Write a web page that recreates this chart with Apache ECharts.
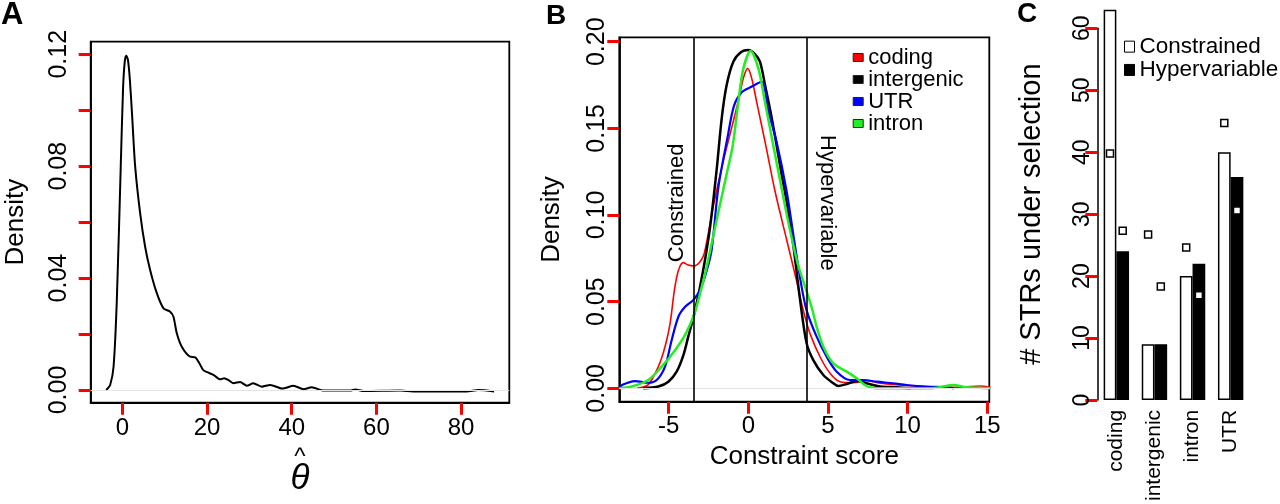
<!DOCTYPE html>
<html>
<head>
<meta charset="utf-8">
<script src="https://cdn.jsdelivr.net/npm/echarts@6/dist/echarts.min.js"></script>
<style>
html, body { margin: 0; padding: 0; background: #fff; }
#main { width: 1280px; height: 504px; }
</style>
</head>
<body>
<div id="main"></div>
<script>
// A: density of theta hat
let thetaX = [-3.85, -2.9, -2.1, -1.33, -0.4, 0.15, 0.55, 0.9, 1.3, 1.75, 2.25, 3.0, 4.18, 5.36, 6.54, 8.12, 9.69, 11.27, 12.05, 12.84, 14.02, 16.0, 17.2, 18.2, 19.1, 20.3, 21.5, 23.1, 24.0, 25.3, 26.2, 27.8, 29.4, 30.9, 32.9, 34.9, 37.8, 40.4, 42.8, 44.7, 47.5, 53.8, 55.0, 57.0, 65.6, 68.7, 81.3, 84.1, 87.8];
let thetaY = [0, 0.0018, 0.0083, 0.032, 0.08, 0.108, 0.1175, 0.1195, 0.118, 0.111, 0.099, 0.08, 0.0632, 0.0512, 0.0429, 0.0346, 0.0292, 0.028, 0.0262, 0.0203, 0.0155, 0.0119, 0.0117, 0.0095, 0.0071, 0.0062, 0.0054, 0.0038, 0.0042, 0.0033, 0.0024, 0.0029, 0.0015, 0.0024, 0.0012, 0.0018, 0.0005, 0.0015, 0.0003, 0.001, -0.0002, -0.0002, 0.0002, -0.0004, -0.0002, -0.0005, -0.0005, 0.0, -0.0005];
let thetaTicks = [0, 20, 40, 60, 80];
let densityTicksA = [0, 0.02, 0.04, 0.06, 0.08, 0.1, 0.12];
let densityLabelsA = [0, 0.04, 0.08, 0.12];
let faintLineA = 0.0024;

// B: constraint score densities
let codingX = [-7.0, -6.3, -5.65, -5.23, -4.91, -4.64, -4.39, -4.08, -3.77, -3.41, -3.03, -2.76, -2.2, -1.6, -1.0, -0.57, -0.31, -0.04, 0.21, 0.53, 1.1, 1.67, 2.4, 3.03, 3.45, 3.87, 4.5, 5.13, 5.76, 6.59, 7.43, 8.27, 9.52, 10.57, 12.03, 13.3, 14.55, 15.2];
let codingY = [0.0, 0.002, 0.0125, 0.024, 0.0375, 0.0567, 0.068, 0.0725, 0.0711, 0.0706, 0.073, 0.078, 0.105, 0.13, 0.152, 0.168, 0.179, 0.1846, 0.179, 0.165, 0.14, 0.114, 0.086, 0.062, 0.045, 0.0317, 0.0182, 0.0087, 0.0038, 0.0032, 0.0044, 0.0029, 0.0019, 0.0013, 0.0006, 0.0006, 0.0013, 0.0006];
let intergenicX = [-6.6, -5.65, -5.02, -4.5, -4.08, -3.77, -3.41, -3.03, -2.72, -2.4, -2.0, -1.67, -1.36, -0.94, -0.45, 0.0, 0.4, 0.73, 1.05, 1.47, 1.78, 2.1, 2.4, 2.82, 3.25, 3.66, 4.08, 4.71, 5.34, 5.65, 6.18, 6.8, 7.43, 8.27, 9.32, 10.2];
let intergenicY = [0.0, 0.001, 0.0038, 0.0096, 0.019, 0.0298, 0.0423, 0.0586, 0.074, 0.093, 0.125, 0.1558, 0.175, 0.1885, 0.194, 0.1952, 0.193, 0.1885, 0.175, 0.156, 0.14, 0.123, 0.108, 0.083, 0.051, 0.026, 0.0163, 0.0077, 0.0029, 0.0013, 0.0025, 0.0042, 0.0029, 0.001, 0.0006, 0.0];
let utrX = [-8.1, -7.9, -7.11, -6.28, -5.75, -5.23, -4.81, -4.39, -3.97, -3.45, -3.03, -2.61, -2.3, -1.88, -1.3, -0.9, -0.4, 0.2, 0.84, 1.26, 1.78, 2.4, 2.82, 3.3, 3.66, 4.29, 4.92, 5.55, 6.38, 7.22, 8.06, 9.1, 9.94, 11.2, 12.45, 12.9];
let utrY = [0.0, 0.002, 0.0042, 0.0032, 0.0048, 0.0125, 0.0279, 0.0413, 0.047, 0.051, 0.0567, 0.068, 0.08, 0.116, 0.145, 0.163, 0.171, 0.174, 0.177, 0.16, 0.142, 0.114, 0.089, 0.061, 0.045, 0.0298, 0.0182, 0.0096, 0.0048, 0.0048, 0.0038, 0.0029, 0.0019, 0.001, 0.0006, 0.0];
let intronX = [-8.1, -7.32, -6.28, -5.44, -4.6, -3.97, -3.41, -3.03, -2.61, -2.2, -1.8, -1.4, -0.98, -0.63, -0.31, 0.15, 0.63, 1.05, 1.57, 2.1, 2.6, 3.1, 3.66, 4.0, 4.29, 4.71, 5.34, 6.18, 6.8, 7.43, 8.27, 11.5, 12.03, 12.87, 13.71, 15.2];
let intronY = [0.0, 0.001, 0.0048, 0.0125, 0.022, 0.0308, 0.0423, 0.0548, 0.0702, 0.088, 0.105, 0.122, 0.14, 0.165, 0.1846, 0.1946, 0.1846, 0.165, 0.14, 0.115, 0.092, 0.072, 0.056, 0.046, 0.0355, 0.024, 0.0144, 0.0096, 0.0058, 0.0013, 0.0, 0.0, 0.0006, 0.0019, 0.0006, 0.0];
let scoreTicks = [-5, 0, 5, 10, 15];
let densityTicksB = [0, 0.05, 0.1, 0.15, 0.2];
let constrainedCut = -3.43;
let hypervariableCut = 3.68;

// C: STRs under selection
let categories = ['coding', 'intergenic', 'intron', 'UTR'];
let constrainedCounts = [63, 9, 20, 40];
let hypervariableCounts = [24, 9, 22, 36];
let expectedConstrained = [39.8, 26.7, 24.6, 44.7];
let expectedHypervariable = [27.3, 18.3, 16.9, 30.6];

const FONT = 'Liberation Sans';

// panel B frame, shared by the grid, its axes and the cut-off annotations
const gridB = { left: 619.3, top: 37.3, width: 370, height: 364.4 };
const rangeBX = [-8.1, 15.13];
const rangeBY = [-0.00773, 0.20254];

function zip(xs, ys) {
    return xs.map((x, i) => [x, ys[i]]);
}

function toPixelB(x, y) {
    return [
        gridB.left + (x - rangeBX[0]) / (rangeBX[1] - rangeBX[0]) * gridB.width,
        gridB.top + (rangeBY[1] - y) / (rangeBY[1] - rangeBY[0]) * gridB.height
    ];
}

function densityLine(name, xs, ys, color, width) {
    return {
        name: name,
        type: 'line',
        xAxisIndex: 1,
        yAxisIndex: 1,
        data: zip(xs, ys),
        showSymbol: false,
        smooth: 0.3,
        lineStyle: { color: color, width: width },
        itemStyle: { color: color }
    };
}

// debug: ticks drawn red and thick to see whether they render at all
function ticks(values) {
    return { show: true, inside: false, length: 12, customValues: values, lineStyle: { color: '#f00', width: 3 } };
}
function boxLine() {
    return { show: true, onZero: false, lineStyle: { color: '#000', width: 1.8 } };
}

let labelLevel = 0.107;
let pc = toPixelB(constrainedCut, labelLevel);
let ph = toPixelB(hypervariableCut, labelLevel);

let chart = echarts.init(document.getElementById('main'));

let option = {
    animation: false,
    textStyle: { fontFamily: FONT, color: '#000' },
    title: [
        { text: 'A', left: 1, top: 0, padding: 0, textStyle: { fontFamily: FONT, fontSize: 31, fontWeight: 'bold', color: '#000' } },
        { text: 'B', left: 546, top: 2, padding: 0, textStyle: { fontFamily: FONT, fontSize: 28, fontWeight: 'bold', color: '#000' } },
        { text: 'C', left: 1017, top: 0, padding: 0, textStyle: { fontFamily: FONT, fontSize: 28, fontWeight: 'bold', color: '#000' } }
    ],
    graphic: [
        {
            type: 'text', x: pc[0] - 6, y: pc[1], rotation: Math.PI / 2,
            style: { text: 'Constrained', font: '22px "Liberation Sans"', fill: '#000', align: 'center', verticalAlign: 'bottom' }
        },
        {
            type: 'text', x: ph[0] + 9, y: ph[1], rotation: -Math.PI / 2,
            style: { text: 'Hypervariable', font: '22px "Liberation Sans"', fill: '#000', align: 'center', verticalAlign: 'bottom' }
        }
    ],
    legend: [
        {
            data: ['coding', 'intergenic', 'UTR', 'intron'],
            orient: 'vertical', left: 852.7, top: 46.5, padding: 0, itemGap: 0,
            itemWidth: 10, itemHeight: 8, icon: 'rect',
            itemStyle: { borderColor: '#222', borderWidth: 1 },
            textStyle: { fontFamily: FONT, fontSize: 22, lineHeight: 21.5, color: '#000' },
            selectedMode: false
        },
        {
            data: ['Constrained', 'Hypervariable'],
            orient: 'vertical', left: 1124, top: 35, padding: 0, itemGap: 0,
            itemWidth: 10, itemHeight: 11, icon: 'rect',
            itemStyle: { borderColor: '#000', borderWidth: 1 },
            textStyle: { fontFamily: FONT, fontSize: 22.5, lineHeight: 23.3, color: '#000' },
            selectedMode: false
        }
    ],
    grid: [
        { left: 90.7, top: 41.7, width: 418.6, height: 361, show: true, borderColor: '#000', borderWidth: 1.8 },
        Object.assign({ show: true, borderColor: '#000', borderWidth: 1.8 }, gridB),
        { left: 1097.3, top: 3.5, width: 152.4, height: 396.5 },
        { left: 1097.3, top: 28.3, width: 1, height: 371.7 }
    ],
    xAxis: [
        {
            gridIndex: 0, type: 'value', min: -7.5, max: 91.4,
            axisLine: boxLine(),
            axisTick: ticks(thetaTicks),
            axisLabel: { customValues: thetaTicks, fontSize: 24, color: '#000', margin: 14 },
            splitLine: { show: false },
            name: '{h|^}\n{t|θ}', nameLocation: 'middle', nameGap: 42,
            nameTextStyle: {
                align: 'center',
                rich: {
                    h: { fontSize: 24, lineHeight: 14, fontFamily: FONT, color: '#000', align: 'center' },
                    t: { fontSize: 35, lineHeight: 30, fontStyle: 'italic', fontFamily: FONT, color: '#000', align: 'center' }
                }
            }
        },
        {
            gridIndex: 1, type: 'value', min: rangeBX[0], max: rangeBX[1],
            axisLine: boxLine(),
            axisTick: ticks(scoreTicks),
            axisLabel: { customValues: scoreTicks, fontSize: 24, color: '#000', margin: 13 },
            splitLine: { show: false },
            name: 'Constraint score', nameLocation: 'middle', nameGap: 40,
            nameTextStyle: { fontSize: 26, color: '#000' }
        },
        {
            gridIndex: 2, type: 'category', data: categories,
            axisLine: { show: false, onZero: false },
            axisTick: { show: false },
            axisLabel: { rotate: 90, fontSize: 21, color: '#000', margin: 10, interval: 0 }
        },
        { gridIndex: 2, type: 'value', min: -0.5, max: 3.5, show: false },
        { gridIndex: 3, type: 'value', min: 0, max: 1, show: false }
    ],
    yAxis: [
        {
            gridIndex: 0, type: 'value', min: -0.00454, max: 0.1245,
            axisLine: boxLine(),
            axisTick: ticks(densityTicksA),
            axisLabel: { customValues: densityLabelsA, rotate: 90, fontSize: 25, color: '#000', margin: 19, formatter: v => v.toFixed(2) },
            splitLine: { show: false },
            name: 'Density', nameLocation: 'middle', nameGap: 62,
            nameTextStyle: { fontSize: 26, color: '#000' }
        },
        {
            gridIndex: 1, type: 'value', min: rangeBY[0], max: rangeBY[1],
            axisLine: boxLine(),
            axisTick: ticks(densityTicksB),
            axisLabel: { customValues: densityTicksB, rotate: 90, fontSize: 25, color: '#000', margin: 10, formatter: v => v.toFixed(2) },
            splitLine: { show: false },
            name: 'Density', nameLocation: 'middle', nameGap: 54,
            nameTextStyle: { fontSize: 26, color: '#000' }
        },
        { gridIndex: 2, type: 'value', min: 0, max: 64, show: false },
        {
            gridIndex: 3, type: 'value', min: 0, max: 60, interval: 10,
            axisLine: { show: true, onZero: false, lineStyle: { color: '#000', width: 1.5 } },
            axisTick: { show: true, inside: false, length: 12, lineStyle: { color: '#f00', width: 3 } },
            axisLabel: { rotate: 90, fontSize: 23, color: '#000', margin: 3 },
            splitLine: { show: false },
            name: '# STRs under selection', nameLocation: 'middle', nameGap: 51,
            nameTextStyle: { fontSize: 29, color: '#000' }
        }
    ],
    series: [
        {
            name: 'theta', type: 'line', xAxisIndex: 0, yAxisIndex: 0,
            data: zip(thetaX, thetaY), showSymbol: false, smooth: 0.25,
            lineStyle: { color: '#000', width: 2 },
            markLine: {
                silent: true, symbol: 'none', label: { show: false },
                lineStyle: { color: '#e4e4e4', width: 1, type: 'solid' },
                data: [{ yAxis: faintLineA }]
            }
        },
        Object.assign(densityLine('coding', codingX, codingY, '#ff0000', 1.6), {
            markLine: {
                silent: true, symbol: 'none', label: { show: false },
                lineStyle: { color: '#000', width: 1.6, type: 'solid' },
                data: [
                    { yAxis: 0, lineStyle: { color: '#e4e4e4', width: 1 } },
                    { xAxis: constrainedCut },
                    { xAxis: hypervariableCut }
                ]
            }
        }),
        densityLine('intergenic', intergenicX, intergenicY, '#000000', 2.5),
        densityLine('UTR', utrX, utrY, '#0000ff', 2.2),
        densityLine('intron', intronX, intronY, '#22ee22', 2.5),
        {
            name: 'Constrained', type: 'bar', xAxisIndex: 2, yAxisIndex: 2,
            data: constrainedCounts, barGap: '0%', barCategoryGap: '33.33%',
            itemStyle: { color: '#fff', borderColor: '#000', borderWidth: 1.5 }
        },
        {
            name: 'Hypervariable', type: 'bar', xAxisIndex: 2, yAxisIndex: 2,
            data: hypervariableCounts, barGap: '0%', barCategoryGap: '33.33%',
            itemStyle: { color: '#000', borderColor: '#000', borderWidth: 1.5 }
        },
        {
            name: 'expected constrained', type: 'scatter', xAxisIndex: 3, yAxisIndex: 2, z: 5,
            symbol: 'rect', symbolSize: 7,
            data: expectedConstrained.map((v, i) => [i - 1 / 6, v]),
            itemStyle: { color: '#fff', borderColor: '#000', borderWidth: 1.5, opacity: 1 }
        },
        {
            name: 'expected hypervariable', type: 'scatter', xAxisIndex: 3, yAxisIndex: 2, z: 5,
            symbol: 'rect', symbolSize: 7,
            data: expectedHypervariable.map((v, i) => [i + 1 / 6, v]),
            itemStyle: { color: '#fff', borderColor: '#000', borderWidth: 1.5, opacity: 1 }
        }
    ]
};

chart.setOption(option);
</script>
</body>
</html>
